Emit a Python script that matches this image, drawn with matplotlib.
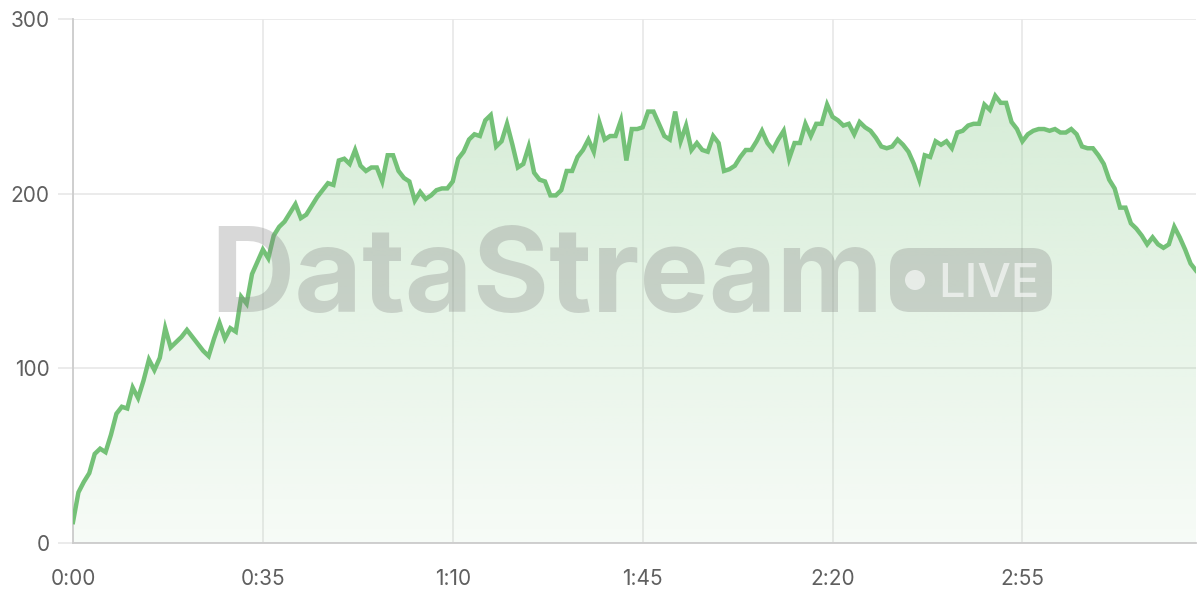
import numpy as np
import matplotlib
matplotlib.use("Agg")
import matplotlib.pyplot as plt
from matplotlib.patches import FancyBboxPatch, Circle

# sessions per second, one reading each second from 0:00 to 3:27
values = [12, 29, 35, 40, 51, 54, 52, 62, 74, 78,
          77, 89, 83, 93, 105, 99, 106, 123, 112, 115,
          118, 122, 118, 114, 110, 107, 117, 126, 117, 123,
          121, 141, 137, 154, 161, 168, 163, 176, 181, 184,
          189, 194, 186, 188, 193, 198, 202, 206, 205, 219,
          220, 217, 225, 216, 213, 215, 215, 207, 222, 222,
          213, 209, 207, 196, 201, 197, 199, 202, 203, 203,
          207, 220, 224, 231, 234, 233, 242, 245, 227, 230,
          240, 228, 215, 217, 227, 212, 208, 207, 199, 199,
          202, 213, 213, 221, 225, 231, 224, 241, 231, 233,
          233, 242, 219, 237, 237, 238, 247, 247, 240, 233,
          231, 247, 230, 239, 225, 229, 225, 224, 233, 229,
          213, 214, 216, 221, 225, 225, 230, 236, 229, 225,
          231, 236, 220, 229, 229, 240, 233, 240, 240, 251,
          244, 242, 239, 240, 234, 241, 238, 236, 232, 227,
          226, 227, 231, 228, 224, 217, 208, 222, 221, 230,
          228, 230, 226, 235, 236, 239, 240, 240, 251, 248,
          256, 252, 252, 241, 237, 230, 234, 236, 237, 237,
          236, 237, 235, 235, 237, 234, 227, 226, 226, 222,
          217, 208, 203, 192, 192, 183, 180, 176, 171, 175,
          171, 169, 171, 181, 175, 168, 160, 156]

x_ticks = [0, 35, 70, 105, 140, 175]
x_tick_labels = ["0:00", "0:35", "1:10", "1:45", "2:20", "2:55"]
y_ticks = [0, 100, 200, 300]

line_color = "#74c177"
grid_color = "#e8e8e8"
axis_color = "#cccccc"
text_color = "#5f5f5f"

plt.rcParams['font.family'] = ['Inter', 'DejaVu Sans']

fig = plt.figure(figsize=(12, 6), dpi=100)
ax = fig.add_axes([73 / 1200, 57 / 600, (1196 - 73) / 1200, 524 / 600])

seconds = np.arange(len(values))
ax.set_xlim(0, len(values) - 1)
ax.set_ylim(0, 300)

# gradient fill under the line
fill = ax.fill_between(seconds, values, 0, color="none", lw=0)
grad = np.zeros((256, 2, 4))
grad[..., 0] = 116 / 255
grad[..., 1] = 193 / 255
grad[..., 2] = 119 / 255
grad[..., 3] = np.linspace(0.33, 0.06, 256)[:, None]
img = ax.imshow(grad, aspect="auto", extent=[0, len(values) - 1, 0, 300],
                origin="upper", zorder=1)
img.set_clip_path(fill.get_paths()[0], transform=ax.transData)

ax.plot(seconds, values, color=line_color, linewidth=3.2, zorder=3,
        solid_joinstyle="miter")

ax.set_xticks(x_ticks)
ax.set_xticklabels(x_tick_labels)
ax.set_yticks(y_ticks)
ax.grid(True, color=grid_color, linewidth=1.2, zorder=0)
ax.set_axisbelow(True)

for side in ["top", "right"]:
    ax.spines[side].set_visible(False)
ax.spines["left"].set_color(axis_color)
ax.spines["bottom"].set_color(axis_color)
ax.spines["left"].set_linewidth(1.3)
ax.spines["bottom"].set_linewidth(1.3)

ax.tick_params(axis="y", length=11, color=grid_color, width=1.2, pad=6,
               labelsize=15, labelcolor=text_color)
ax.tick_params(axis="x", length=0, pad=19, labelsize=15, labelcolor=text_color)

# watermark
fig.text(2.10, 2.88, "DataStream", transform=fig.dpi_scale_trans,
         fontsize=84, fontweight="bold", color="#808080", alpha=0.3,
         ha="left", va="baseline", zorder=10)
badge = FancyBboxPatch((8.90, 2.88), 1.62, 0.64,
                       boxstyle="round,pad=0,rounding_size=0.2",
                       transform=fig.dpi_scale_trans, facecolor="#808080",
                       edgecolor="none", alpha=0.3, zorder=10)
fig.patches.append(badge)
fig.patches.append(Circle((9.15, 3.20), 0.10, transform=fig.dpi_scale_trans,
                          facecolor="white", edgecolor="none", alpha=0.6,
                          zorder=11))
fig.text(9.38, 3.03, "LIVE", transform=fig.dpi_scale_trans,
         fontsize=34, fontweight="medium", color="white", alpha=0.6,
         ha="left", va="baseline", zorder=11)

fig.savefig("out.png", dpi=100)
